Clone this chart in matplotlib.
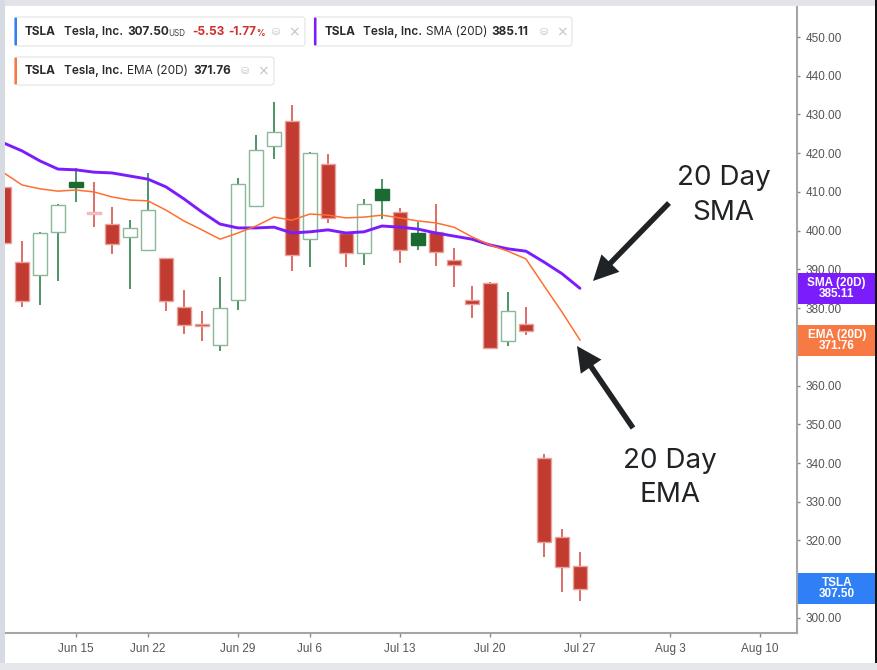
import numpy as np
import pandas as pd
import matplotlib
matplotlib.use("Agg")
import matplotlib.pyplot as plt
import matplotlib.transforms as mtransforms
from matplotlib.patches import Rectangle, FancyBboxPatch, FancyArrow

plt.rcParams['font.family'] = ['Liberation Sans', 'DejaVu Sans']

# ---------------- data ----------------
HOLIDAYS = ["2026-06-19", "2026-07-03"]
dates = pd.bdate_range("2026-06-09", "2026-07-27", freq="C", holidays=HOLIDAYS)

opens = [411.3, 391.9, 388.5, 399.6, 412.6, 404.3, 401.7, 398.4, 395.0, 392.9,
         380.3, 375.5, 370.5, 382.1, 406.4, 421.9, 428.3, 397.8, 417.2, 399.4,
         394.2, 410.8, 404.8, 399.4, 399.6, 392.4, 382.1, 386.5, 371.5, 375.9,
         341.3, 320.9, 313.4]
highs = [412.0, 397.3, 399.6, 406.9, 416.2, 412.6, 406.1, 402.7, 414.9, 393.0,
         384.7, 379.3, 388.0, 413.6, 424.7, 433.2, 432.4, 420.3, 419.8, 399.5,
         408.2, 413.3, 405.8, 402.2, 406.9, 395.5, 385.7, 386.7, 384.2, 380.3,
         342.3, 323.0, 317.0]
lows = [396.0, 380.3, 380.8, 387.0, 407.4, 400.9, 394.0, 384.9, 394.7, 379.3,
        373.3, 371.5, 368.9, 379.5, 406.3, 418.5, 389.6, 390.6, 402.0, 390.6,
        391.1, 403.0, 391.6, 395.0, 390.9, 385.5, 377.4, 369.6, 370.2, 373.1,
        315.7, 306.7, 304.4]
closes = [396.8, 381.8, 399.4, 406.6, 411.3, 404.8, 396.6, 400.7, 405.3, 381.8,
          375.6, 375.3, 380.0, 412.0, 420.8, 425.5, 393.7, 420.0, 403.3, 394.2,
          406.9, 407.9, 395.0, 396.3, 394.5, 391.1, 381.1, 369.7, 379.3, 374.1,
          319.6, 313.03, 307.50]
sma20 = [422.6, 420.6, 418.0, 415.9, 415.7, 415.1, 414.9, 414.1, 413.3, 411.3,
         408.2, 404.8, 401.7, 400.7, 400.7, 400.9, 399.4, 399.7, 400.2, 399.4,
         399.7, 401.2, 400.9, 400.4, 399.4, 398.6, 397.8, 396.3, 395.3, 394.7,
         391.9, 388.9, 385.11]
ema20 = [414.9, 411.8, 410.8, 410.2, 410.5, 410.0, 408.7, 407.9, 407.7, 405.3,
         402.5, 400.2, 397.8, 399.4, 401.2, 403.5, 402.7, 404.3, 404.0, 403.3,
         403.5, 404.0, 403.3, 402.5, 402.0, 400.9, 398.4, 396.3, 394.7, 392.7,
         385.8, 379.0, 371.76]

tick_dates = ["2026-06-15", "2026-06-22", "2026-06-29", "2026-07-06", "2026-07-13",
              "2026-07-20", "2026-07-27", "2026-08-03", "2026-08-10"]
tick_labels = ["Jun 15", "Jun 22", "Jun 29", "Jul 6", "Jul 13",
               "Jul 20", "Jul 27", "Aug 3", "Aug 10"]
yticks = list(range(300, 451, 10))

TICKER = "TSLA"
COMPANY = "Tesla, Inc."

# ---------------- figure ----------------
W, H = 877, 670
fig = plt.figure(figsize=(W / 100, H / 100), dpi=100)
fig.patch.set_facecolor("white")


def px_rect(x0, y0, x1, y1):
    return [x0 / W, 1 - y1 / H, (x1 - x0) / W, (y1 - y0) / H]


ax = fig.add_axes(px_rect(5, 7, 797, 633))
ax.set_facecolor("white")

x = np.arange(len(closes))
assert len(dates) == len(closes)
prev = np.r_[opens[0], closes[:-1]]

for i in x:
    o, h, l, c = opens[i], highs[i], lows[i], closes[i]
    up = c >= prev[i]
    hollow = c >= o
    if up:
        wick = "#3f8c58"
        if hollow:
            fc, ec = "white", "#8ab798"
        else:
            fc, ec = "#1b6a32", "#1b6a32"
    else:
        wick = "#d8625b"
        if hollow:
            fc, ec = "#f3cac8", "#efb8b5"
        else:
            fc, ec = "#c23b30", "#e9a29c"
    ax.vlines(i, l, h, color=wick, lw=1.3, zorder=2)
    bottom = min(o, c)
    height = max(abs(c - o), 0.5)
    ax.add_patch(Rectangle((i - 0.4, bottom), 0.8, height, fc=fc, ec=ec,
                           lw=1.0, zorder=3))

ax.plot(x, sma20, color="#7a1cfc", lw=2.1, zorder=4, solid_capstyle="round")
ax.plot(x, ema20, color="#ff6f30", lw=1.1, zorder=4)

ax.set_xlim(0.056, 44.06)
ax.set_ylim(296.11, 457.75)

unit_px = 626 / (457.75 - 296.11)
box_h = 31 / unit_px
box_w = 77 / 792
tags = [("SMA (20D)", sma20[-1], "#7a1cfc"),
        ("EMA (20D)", ema20[-1], "#f77a45"),
        (TICKER, closes[-1], "#2f7ff7")]

# x ticks from trading-day counts
tick_pos = [np.busday_count(dates[0].date(), pd.Timestamp(d).date(), holidays=HOLIDAYS)
            for d in tick_dates]
ax.set_xticks(tick_pos)
ax.set_xticklabels(tick_labels)
ax.yaxis.tick_right()
ax.set_yticks(yticks)
# labels hidden beneath a price tag are left blank (they are covered in the chart)
ylabels = []
for v in yticks:
    covered = any(abs(v - tv) < box_h / 2 for _, tv, _ in tags)
    ylabels.append("" if covered else f"{v:.2f}")
ax.set_yticklabels(ylabels)
ax.tick_params(axis="x", length=3, width=1, color="#8a8a8a", labelsize=8.5,
               labelcolor="#555555", pad=4.5)
ax.tick_params(axis="y", length=2.5, width=1, color="#8a8a8a", labelsize=8.5,
               labelcolor="#555555", pad=4)
for s in ["top", "left"]:
    ax.spines[s].set_visible(False)
for s in ["right", "bottom"]:
    ax.spines[s].set_color("#a5a5a5")
    ax.spines[s].set_linewidth(1.5)

# price tags on right axis
blend = mtransforms.blended_transform_factory(ax.transAxes, ax.transData)
for name, val, col in tags:
    ax.add_patch(Rectangle((1.0015, val - box_h / 2), box_w, box_h, transform=blend,
                           fc=col, ec="none", clip_on=False, zorder=6))
    ax.text(1.0015 + box_w / 2, val + 5.5 / unit_px, name, transform=blend,
            ha="center", va="center", color="white", fontsize=8.5,
            fontweight="bold", zorder=7, clip_on=False)
    ax.text(1.0015 + box_w / 2, val - 5.5 / unit_px, f"{val:.2f}", transform=blend,
            ha="center", va="center", color="white", fontsize=8.5,
            fontweight="bold", zorder=7, clip_on=False)

# ---------------- overlay (pixel coordinates) ----------------
ov = fig.add_axes([0, 0, 1, 1], zorder=10)
ov.set_xlim(0, W)
ov.set_ylim(H, 0)
ov.axis("off")
ov.patch.set_alpha(0)

# frame bands
ov.add_patch(Rectangle((0, 0), W, 5.5, fc="#e2e4e9", ec="none"))
ov.add_patch(Rectangle((0, 0), 4.5, H, fc="#d6dae2", ec="none"))
ov.add_patch(Rectangle((0, 663), W, 7, fc="#e6e7eb", ec="none"))
ov.add_patch(Rectangle((875, 0), 2, 663, fc="#111111", ec="none"))

# legend boxes
LF = "Inter"


def legend_box(x0, y0, x1, y1, col):
    ov.add_patch(FancyBboxPatch((x0, y0), x1 - x0, y1 - y0,
                                boxstyle="round,pad=0,rounding_size=3",
                                fc="white", ec="#e4e4e4", lw=0.8))
    ov.add_patch(FancyBboxPatch((x0, y0 + 0.5), 2.5, y1 - y0 - 1,
                                boxstyle="round,pad=0,rounding_size=1",
                                fc=col, ec="none"))


def t(xp, yp, s, size=8.5, weight="normal", color="#2a2a2a"):
    ov.text(xp, yp, s, ha="left", va="center", fontsize=size, fontweight=weight,
            color=color, family=[LF, "DejaVu Sans"])


def icons(xp, yp):
    ov.text(xp, yp, "⛁", ha="center", va="center", fontsize=7, color="#c9c9c9",
            family=["DejaVu Sans"])
    ov.text(xp + 18, yp, "×", ha="center", va="center", fontsize=10,
            color="#c4c4c4", family=["DejaVu Sans"])


chg = closes[-1] - closes[-2]
pct = chg / closes[-2] * 100

legend_box(14.5, 17, 305, 46, "#2f7ff7")
y1 = 32
t(25, y1, TICKER, weight="bold")
t(64, y1, COMPANY, weight="semibold")
t(127, y1, f"{closes[-1]:.2f}", weight="bold")
t(168, y1 + 1, "USD", size=5.8, color="#444444")
t(192, y1, f"{chg:.2f}", weight="bold", color="#d0302c")
t(228, y1, f"{pct:.2f}", weight="bold", color="#d0302c")
t(256.5, y1 + 1, "%", size=6, weight="bold", color="#d0302c")
icons(276, y1)

legend_box(314, 17, 572, 46, "#7a1cfc")
t(325, y1, TICKER, weight="bold")
t(363, y1, COMPANY, weight="semibold")
t(426, y1, "SMA (20D)")
t(491, y1, f"{sma20[-1]:.2f}", weight="bold")
icons(544, y1)

legend_box(14.5, 57, 274, 85, "#f77a45")
y2 = 71
t(25, y2, TICKER, weight="bold")
t(64, y2, COMPANY, weight="semibold")
t(127, y2, "EMA (20D)")
t(193, y2, f"{ema20[-1]:.2f}", weight="bold")
icons(245, y2)

# annotations
AC = "#202326"
for xc, yb, s in [(724, 185, "20 Day"), (723, 220, "SMA"),
                  (670, 468, "20 Day"), (670, 502, "EMA")]:
    ov.text(xc, yb, s, ha="center", va="baseline", fontsize=20, color=AC,
            family=[LF, "DejaVu Sans"])

for (xt, yt, xh, yh) in [(669, 203, 593, 281), (633, 428, 577, 346)]:
    ov.add_patch(FancyArrow(xt, yt, xh - xt, yh - yt, width=5.5, head_width=25,
                            head_length=25, length_includes_head=True,
                            fc=AC, ec=AC, lw=0))

fig.savefig("out.png", dpi=100)
